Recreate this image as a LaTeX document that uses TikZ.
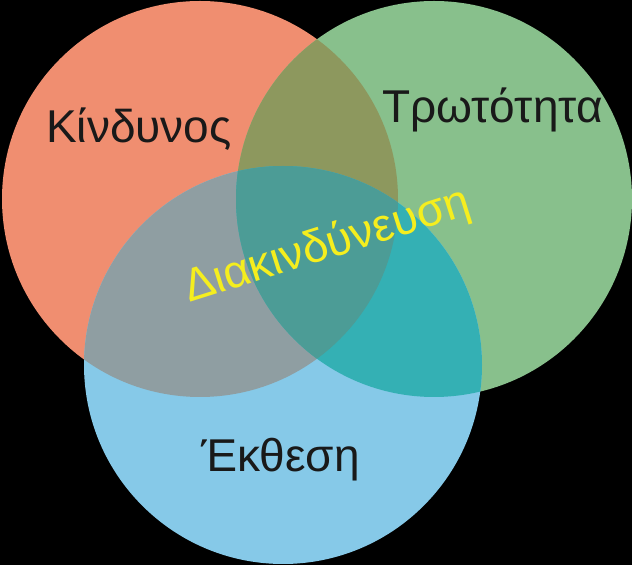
\documentclass[tikz,border=0pt]{standalone}
\usepackage{fontspec}
\setmainfont{Liberation Sans}
\definecolor{hazardred}{HTML}{F08E70}
\definecolor{vulngreen}{HTML}{88C08C}
\definecolor{expoblue}{HTML}{86C9E8}
\definecolor{hazvul}{HTML}{8D985E}
\definecolor{hazexpo}{HTML}{8F9EA2}
\definecolor{vulexpo}{HTML}{34B0B4}
\definecolor{riskteal}{HTML}{4C9C96}
\definecolor{risktext}{HTML}{F5EE1E}
\tikzset{
x=1pt, y=1pt, % one unit is one pixel of the picture
every label text/.style={font=\fontsize{46}{52}\selectfont, text=black!90, anchor=base west, inner sep=0pt}, % the three circle names
risk text/.style={every label text, text=risktext, rotate=17.5}, % the name of the middle
}
% the three circles
\def\hazard{(200,366) circle (198)}
\def\vuln{(434,366) circle (198)}
\def\expo{(283,200) circle (199)}

\begin{document}
\begin{tikzpicture}
    \fill[black] (0,0) rectangle (632,565);
    \useasboundingbox (0,0) rectangle (632,565);
    \fill[hazardred] \hazard;
    \fill[vulngreen] \vuln;
    \fill[expoblue] \expo;
    \begin{scope}
        \clip \hazard;
        \fill[hazvul] \vuln;
        \fill[hazexpo] \expo;
    \end{scope}
    \begin{scope}
        \clip \vuln;
        \fill[vulexpo] \expo;
        \clip \expo;
        \fill[riskteal] \hazard;
    \end{scope}
    \node[every label text] (haz) at (46,422) {Κίνδυνος};
    \node[every label text] (vul) at (382,442) {Τρωτότητα};
    \node[every label text] (exp) at (201,93) {Έκθεση};
    \node[risk text] (risk) at (189,262) {Διακινδύνευση};
\end{tikzpicture}
\end{document}
